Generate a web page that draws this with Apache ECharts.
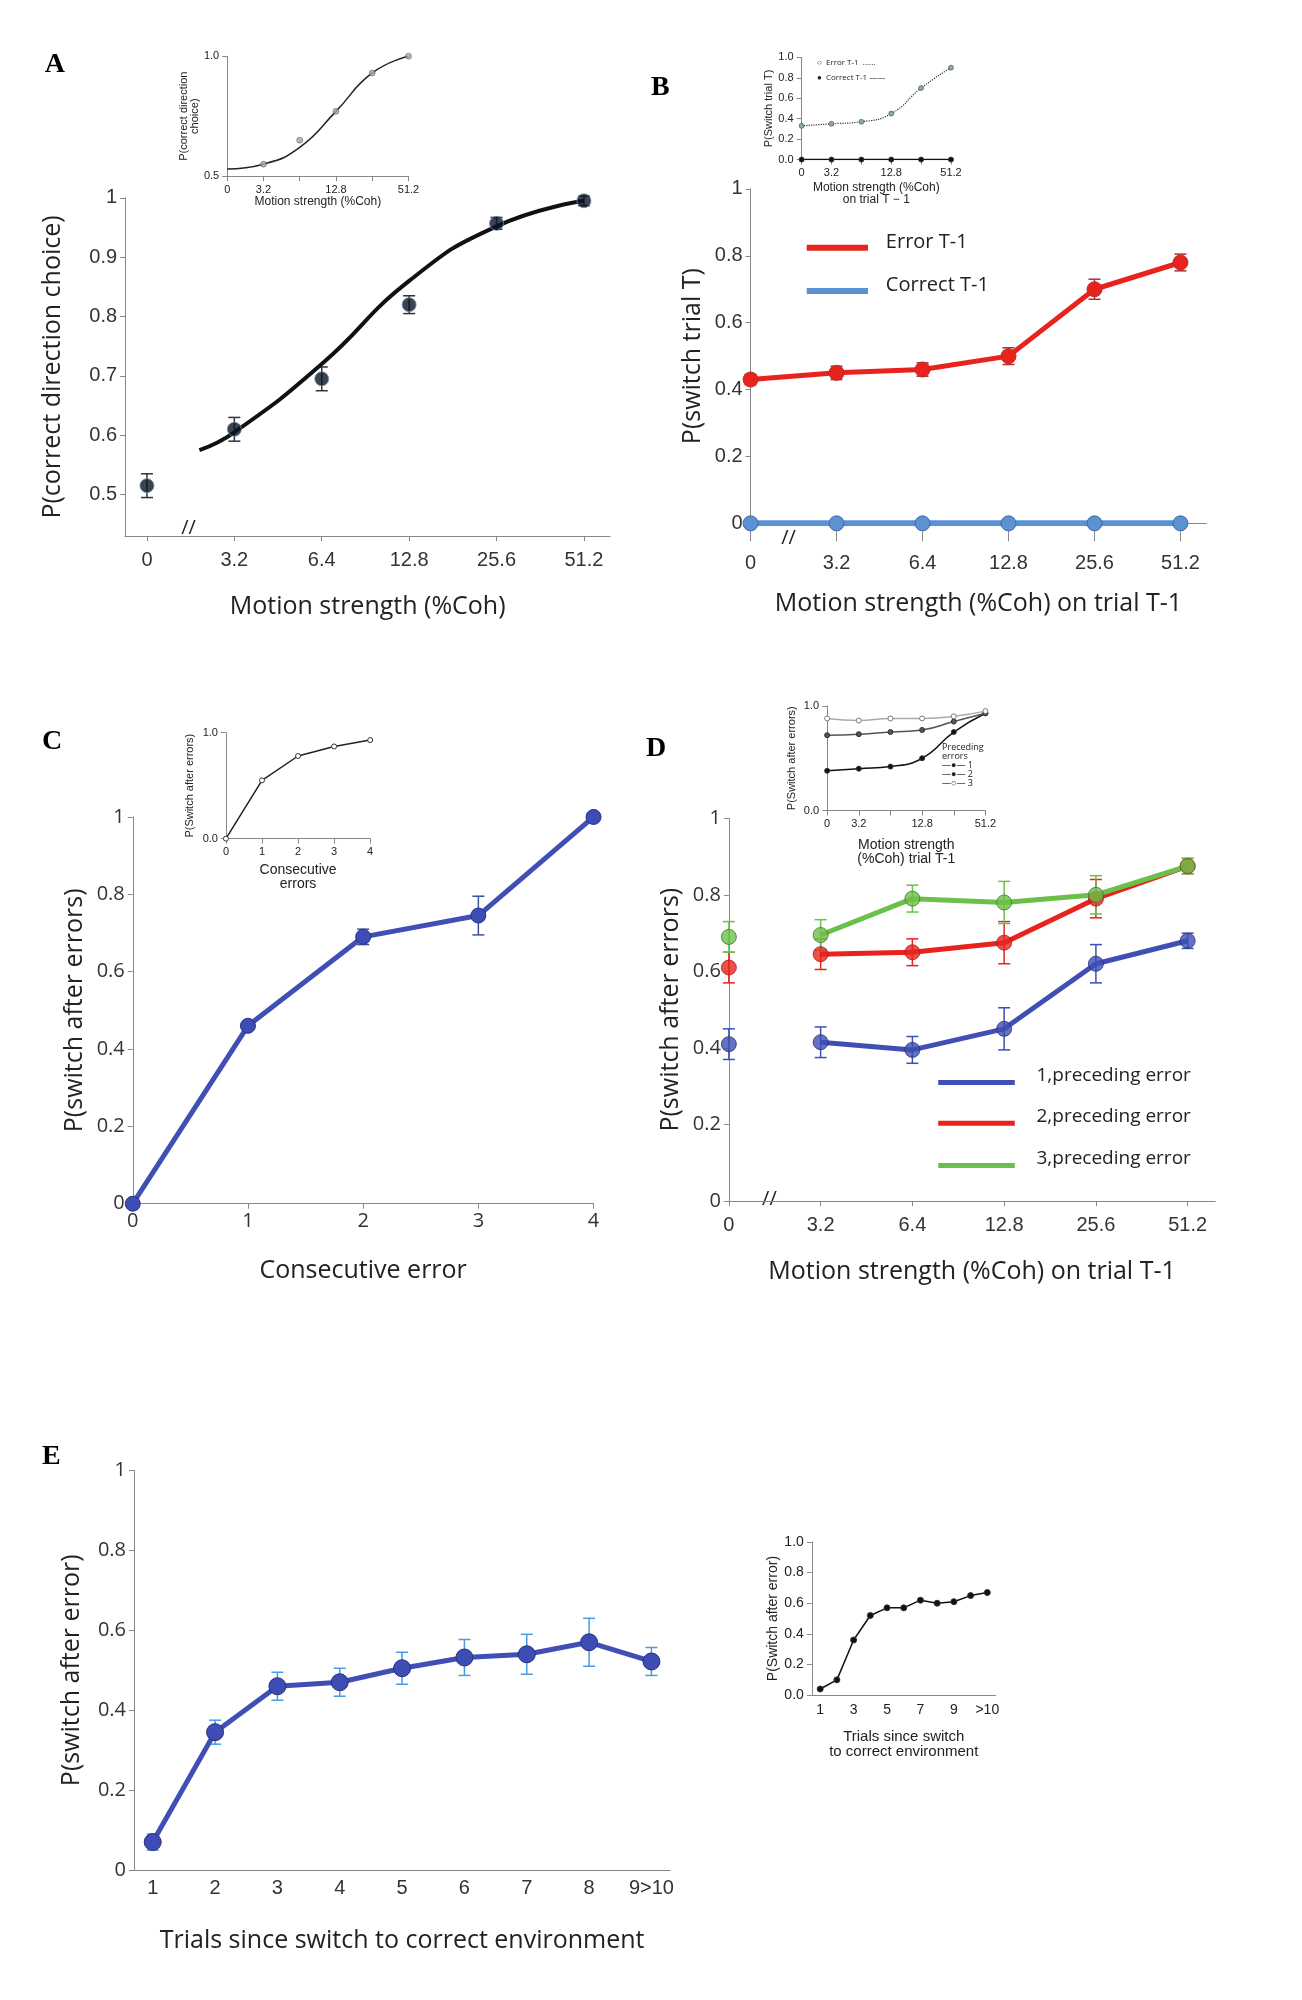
<!DOCTYPE html>
<html><head><meta charset="utf-8">
<script src="https://cdn.jsdelivr.net/npm/echarts@6/dist/echarts.min.js"></script>
<style>body{margin:0;background:#fff}#c{width:1302px;height:2000px}</style>
</head><body><div id="c"></div>
<script>
// data
const cohLabels = ['0', '3.2', '6.4', '12.8', '25.6', '51.2'];
const aPoints = [0.515, 0.61, 0.695, 0.82, 0.957, 0.995];
const aErr = [0.02, 0.02, 0.02, 0.015, 0.01, 0.008];
const aFit = [[0.6, 0.575], [1, 0.605], [2, 0.72], [3, 0.86], [4, 0.952], [5, 0.995]];
const bError = [0.43, 0.45, 0.46, 0.50, 0.70, 0.78];
const bCorrect = [0, 0, 0, 0, 0, 0];
const bErrBar = [0.015, 0.02, 0.02, 0.025, 0.03, 0.025];
const cValues = [0, 0.46, 0.69, 0.745, 1];
const cErr = [0, 0.01, 0.02, 0.05, 0];
const dOne = [0.41, 0.415, 0.395, 0.45, 0.62, 0.68];
const dTwo = [0.61, 0.645, 0.65, 0.675, 0.79, 0.875];
const dThree = [0.69, 0.695, 0.79, 0.78, 0.80, 0.875];
const dErr = [0.04, 0.04, 0.035, 0.055, 0.05, 0.02];
const eLabels = ['1', '2', '3', '4', '5', '6', '7', '8', '9>10'];
const eValues = [0.07, 0.345, 0.46, 0.47, 0.505, 0.532, 0.54, 0.57, 0.522];
const eErr = [0.02, 0.03, 0.035, 0.035, 0.04, 0.045, 0.05, 0.06, 0.035];
// insets
const aInset = [[1, 0.55], [2, 0.65], [3, 0.77], [4, 0.93], [5, 1.0]];
const bInsetErr = [0.33, 0.35, 0.37, 0.45, 0.70, 0.90];
const bInsetCor = [0, 0, 0, 0, 0, 0];
const cInset = [0, 0.55, 0.78, 0.87, 0.93];
const dInset1 = [0.38, 0.40, 0.42, 0.50, 0.75, 0.93];
const dInset2 = [0.72, 0.73, 0.75, 0.77, 0.85, 0.93];
const dInset3 = [0.88, 0.86, 0.88, 0.88, 0.90, 0.95];
const eInsetLabels = ['1', '', '3', '', '5', '', '7', '', '9', '', '>10'];
const eInset = [0.04, 0.1, 0.36, 0.52, 0.57, 0.57, 0.62, 0.6, 0.61, 0.65, 0.67];

const S = 1302 / 1020;
const chart = echarts.init(document.getElementById('c'));
const grid = [], xAxis = [], yAxis = [], series = [], graphic = [];
const axisCol = '#888';

function panel(l, t, r, b, x, y) {
  const i = grid.length;
  grid.push({ left: l * S, top: t * S, width: (r - l) * S, height: (b - t) * S });
  xAxis.push(Object.assign({ gridIndex: i, type: 'value', splitLine: { show: false },
    axisLine: { onZero: false, lineStyle: { color: axisCol } }, axisTick: { lineStyle: { color: axisCol } },
    axisLabel: { color: '#333', fontSize: 20, fontFamily: 'Open Sans' },
    nameLocation: 'middle', nameTextStyle: { fontSize: 25, color: '#222', fontFamily: 'Open Sans' } }, x));
  yAxis.push(Object.assign({ gridIndex: i, type: 'value', splitLine: { show: false },
    axisLine: { show: true, onZero: false, lineStyle: { color: axisCol } }, axisTick: { show: true, lineStyle: { color: axisCol } },
    axisLabel: { color: '#333', fontSize: 20, fontFamily: 'Open Sans' },
    nameLocation: 'middle', nameTextStyle: { fontSize: 25, color: '#222', fontFamily: 'Open Sans' } }, y));
  return i;
}
function xy(vals, off) { return vals.map((v, k) => [k + (off || 0), v]); }
function line(i, data, color, w, sym, extra) {
  series.push(Object.assign({ type: 'line', xAxisIndex: i, yAxisIndex: i, data: data, color: color,
    lineStyle: { width: w, color: color }, symbol: sym ? 'circle' : 'none', symbolSize: sym || 0,
    itemStyle: { color: color, borderColor: '#333', borderWidth: 1 }, z: 3 }, extra || {}));
}
function errs(i, data, err, color) {
  series.push({ type: 'custom', xAxisIndex: i, yAxisIndex: i, z: 2,
    data: data.map((d, k) => [d[0], d[1] - err[k], d[1] + err[k]]),
    renderItem: (p, api) => {
      const lo = api.coord([api.value(0), api.value(1)]);
      const hi = api.coord([api.value(0), api.value(2)]);
      const st = { stroke: color, lineWidth: 1.5 };
      return { type: 'group', children: [
        { type: 'line', shape: { x1: lo[0], y1: lo[1], x2: hi[0], y2: hi[1] }, style: st },
        { type: 'line', shape: { x1: lo[0] - 6, y1: lo[1], x2: lo[0] + 6, y2: lo[1] }, style: st },
        { type: 'line', shape: { x1: hi[0] - 6, y1: hi[1], x2: hi[0] + 6, y2: hi[1] }, style: st }] };
    } });
}
function letter(ch, x, y) {
  graphic.push({ type: 'text', left: x * S, top: y * S,
    style: { text: ch, font: 'bold 28px "Liberation Serif"', fill: '#000' } });
}
function txt(s, x, y, size) {
  graphic.push({ type: 'text', left: x * S, top: y * S,
    style: { text: s, font: (size || 20) + 'px "Open Sans"', fill: '#222' } });
}
const six = [0, 1, 2, 3, 4, 5];
function cohX(min) {
  return { min: min, max: 5.3,
    axisTick: { customValues: six, lineStyle: { color: axisCol } },
    axisLabel: { customValues: six, color: '#333', fontSize: 20, margin: 14, formatter: v => cohLabels[v] ?? '' } };
}

// A
let a = panel(98, 155, 478, 420,
  Object.assign(cohX(-0.25), { name: 'Motion strength (%Coh)', nameGap: 58 }),
  { min: 0.43, max: 1, name: 'P(correct direction choice)', nameGap: 60,
    axisTick: { customValues: [0.5, 0.6, 0.7, 0.8, 0.9, 1], lineStyle: { color: axisCol } },
    axisLabel: { customValues: [0.5, 0.6, 0.7, 0.8, 0.9, 1], color: '#333', fontSize: 20, formatter: v => +v.toFixed(1) } });
line(a, aFit, '#111', 4, 0, { smooth: true });
errs(a, xy(aPoints), aErr, '#333');
series.push({ type: 'scatter', xAxisIndex: a, yAxisIndex: a, data: xy(aPoints), symbolSize: 14,
  itemStyle: { color: '#0a1424', borderColor: '#6a8db0', borderWidth: 1 }, z: 4 });
letter('A', 35, 40);
txt('//', 142, 406, 20);

// B
let b = panel(588, 148, 945, 410,
  Object.assign(cohX(0), { name: 'Motion strength (%Coh) on trial T-1', nameGap: 68 }),
  { min: 0, max: 1, name: 'P(switch trial T)', nameGap: 45, interval: 0.2,
    axisLabel: { color: '#333', fontSize: 20, formatter: v => +v.toFixed(1) } });
xAxis[b].axisLabel.margin = 30; xAxis[b].axisTick.length = 18;
line(b, xy(bError), '#e8231e', 5, 15, { itemStyle: { color: '#e8231e', borderColor: '#b03030', borderWidth: 1 } });
errs(b, xy(bError), bErrBar, '#a33');
line(b, xy(bCorrect), '#5b92d3', 6, 15, { itemStyle: { color: '#5b92d3', borderColor: '#3c6aa5', borderWidth: 1 } });
letter('B', 510, 58);
txt('//', 612, 414, 20);
graphic.push({ type: 'line', shape: { x1: 632 * S, y1: 194 * S, x2: 680 * S, y2: 194 * S }, style: { stroke: '#e8231e', lineWidth: 6 } });
graphic.push({ type: 'line', shape: { x1: 632 * S, y1: 228 * S, x2: 680 * S, y2: 228 * S }, style: { stroke: '#5b92d3', lineWidth: 6 } });
txt('Error T-1', 694, 182, 20); txt('Correct T-1', 694, 216, 20);

// C
let c = panel(104, 640, 465, 943,
  { min: 0, max: 4, interval: 1, name: 'Consecutive error', nameGap: 55 },
  { min: 0, max: 1, interval: 0.2, name: 'P(switch after errors)', nameGap: 45 });
errs(c, xy(cValues), cErr, '#4050a0');
line(c, xy(cValues), '#3f4fb4', 5, 15, { itemStyle: { color: '#3d4db5', borderColor: '#28307a', borderWidth: 1 } });
letter('C', 33, 570);

// D
let d = panel(571, 641, 952, 941,
  Object.assign(cohX(0), { name: 'Motion strength (%Coh) on trial T-1', nameGap: 58 }),
  { min: 0, max: 1, interval: 0.2, name: 'P(switch after errors)', nameGap: 45 });
const dSets = [[dOne, '#3f4fb4', '#28307a'], [dTwo, '#e8231e', '#a02020'], [dThree, '#6cc04a', '#3b7a25']];
dSets.forEach(([vals, col, bc]) => {
  errs(d, xy(vals), dErr, col);
  line(d, xy(vals.slice(1), 1), col, 5, 0);
  series.push({ type: 'scatter', xAxisIndex: d, yAxisIndex: d, data: xy(vals), symbolSize: 15,
    itemStyle: { color: col, borderColor: bc, borderWidth: 1 }, z: 4 });
});
letter('D', 506, 576);
txt('//', 597, 932, 20);
[['#3f4fb4', '1,preceding error', 848], ['#e8231e', '2,preceding error', 880], ['#6cc04a', '3,preceding error', 913]].forEach(([col, s, y]) => {
  graphic.push({ type: 'line', shape: { x1: 735 * S, y1: y * S, x2: 795 * S, y2: y * S }, style: { stroke: col, lineWidth: 5 } });
  txt(s, 812, y - 13, 19);
});

// E
const nine = [1, 2, 3, 4, 5, 6, 7, 8, 9];
let e = panel(105, 1152, 525, 1465,
  { min: 0.7, max: 9.3, name: 'Trials since switch to correct environment', nameGap: 58,
    axisTick: { show: false },
    axisLabel: { customValues: nine, color: '#333', fontSize: 20, formatter: v => eLabels[v - 1] ?? '' } },
  { min: 0, max: 1, interval: 0.2, name: 'P(switch after error)', nameGap: 50 });
errs(e, xy(eValues, 1), eErr, '#4a9be0');
line(e, xy(eValues, 1), '#3f4fb4', 5, 17, { itemStyle: { color: '#3d4db5', borderColor: '#28307a', borderWidth: 1 } });
letter('E', 33, 1130);

// insets
function inset(l, t, r, bt, x, y, nx, ny) {
  return panel(l, t, r, bt,
    Object.assign({ name: nx, nameGap: 16, nameTextStyle: { fontSize: 12, color: '#222' } }, x),
    Object.assign({ name: ny, nameGap: 22, nameTextStyle: { fontSize: 11, color: '#222' } }, y));
}
const small = { fontSize: 11, color: '#222' };
const cohSmall = { min: 0, max: 5, interval: 1, axisLabel: Object.assign({ formatter: v => ({ 0: '0', 1: '3.2', 3: '12.8', 5: '51.2' })[v] ?? '' }, small) };
let ia = inset(178, 44, 320, 138, cohSmall,
  { min: 0.5, max: 1, interval: 0.5, axisLabel: Object.assign({ formatter: v => v.toFixed(1) }, small) },
  'Motion strength (%Coh)', 'P(correct direction\nchoice)');
line(ia, [[0, 0.53], [1, 0.55], [2, 0.62], [3, 0.77], [4, 0.93], [5, 1.0]], '#222', 1.5, 0, { smooth: true });
series.push({ type: 'scatter', xAxisIndex: ia, yAxisIndex: ia, data: aInset, symbolSize: 6,
  itemStyle: { color: '#9ab', borderColor: '#333', borderWidth: 0.5 }, z: 4 });

let ib = inset(628, 45, 745, 125, cohSmall,
  { min: 0, max: 1, interval: 0.2, axisLabel: Object.assign({ formatter: v => v.toFixed(1) }, small) },
  'Motion strength (%Coh)\non trial T − 1', 'P(Switch trial T)');
xAxis[ib].nameGap = 22;
line(ib, xy(bInsetErr), '#333', 1, 5, { smooth: true, lineStyle: { type: 'dotted', width: 1.2, color: '#333' },
  itemStyle: { color: '#8aa', borderColor: '#333', borderWidth: 0.5 } });
line(ib, xy(bInsetCor), '#111', 1.5, 5);
txt('○  Error T-1  ......', 640, 46, 8); txt('●  Correct T-1 ——', 640, 58, 8);

let ic = inset(177, 574, 290, 657,
  { min: 0, max: 4, interval: 1, axisLabel: small },
  { min: 0, max: 1, interval: 1, axisLabel: Object.assign({ formatter: v => v.toFixed(1) }, small) },
  'Consecutive\nerrors', 'P(Switch after errors)');
xAxis[ic].nameGap = 24; xAxis[ic].nameTextStyle.fontSize = 14; yAxis[ic].nameGap = 30;
line(ic, xy(cInset), '#222', 1.5, 5, { itemStyle: { color: '#fff', borderColor: '#333', borderWidth: 1 } });

let id = inset(648, 553, 772, 635, cohSmall,
  { min: 0, max: 1, interval: 1, axisLabel: Object.assign({ formatter: v => v.toFixed(1) }, small) },
  'Motion strength\n(%Coh) trial T-1', 'P(Switch after errors)');
xAxis[id].nameGap = 28; xAxis[id].nameTextStyle.fontSize = 14; yAxis[id].nameGap = 30;
line(id, xy(dInset1), '#111', 1.5, 5, { smooth: true });
line(id, xy(dInset2), '#555', 1.5, 5, { smooth: true });
line(id, xy(dInset3), '#aaa', 1.5, 5, { smooth: true, itemStyle: { color: '#fff', borderColor: '#777' } });
txt('Preceding\nerrors\n—●— 1\n—●— 2\n—○— 3', 738, 582, 9);

const eleven = [1, 2, 3, 4, 5, 6, 7, 8, 9, 10, 11];
let ie = inset(636, 1208, 780, 1328,
  { min: 0.5, max: 11.5, axisTick: { show: false },
    axisLabel: Object.assign({ customValues: eleven, formatter: v => eInsetLabels[v - 1] ?? '' }, small, { fontSize: 14 }) },
  { min: 0, max: 1, interval: 0.2, axisLabel: Object.assign({ formatter: v => v.toFixed(1) }, small, { fontSize: 14 }) },
  'Trials since switch\nto correct environment', 'P(Switch after error)');
xAxis[ie].nameGap = 34; xAxis[ie].nameTextStyle.fontSize = 15; yAxis[ie].nameGap = 32; yAxis[ie].nameTextStyle.fontSize = 14;
line(ie, xy(eInset, 1), '#111', 1.5, 6);

chart.setOption({ animation: false, grid, xAxis, yAxis, series, graphic });
</script></body></html>
